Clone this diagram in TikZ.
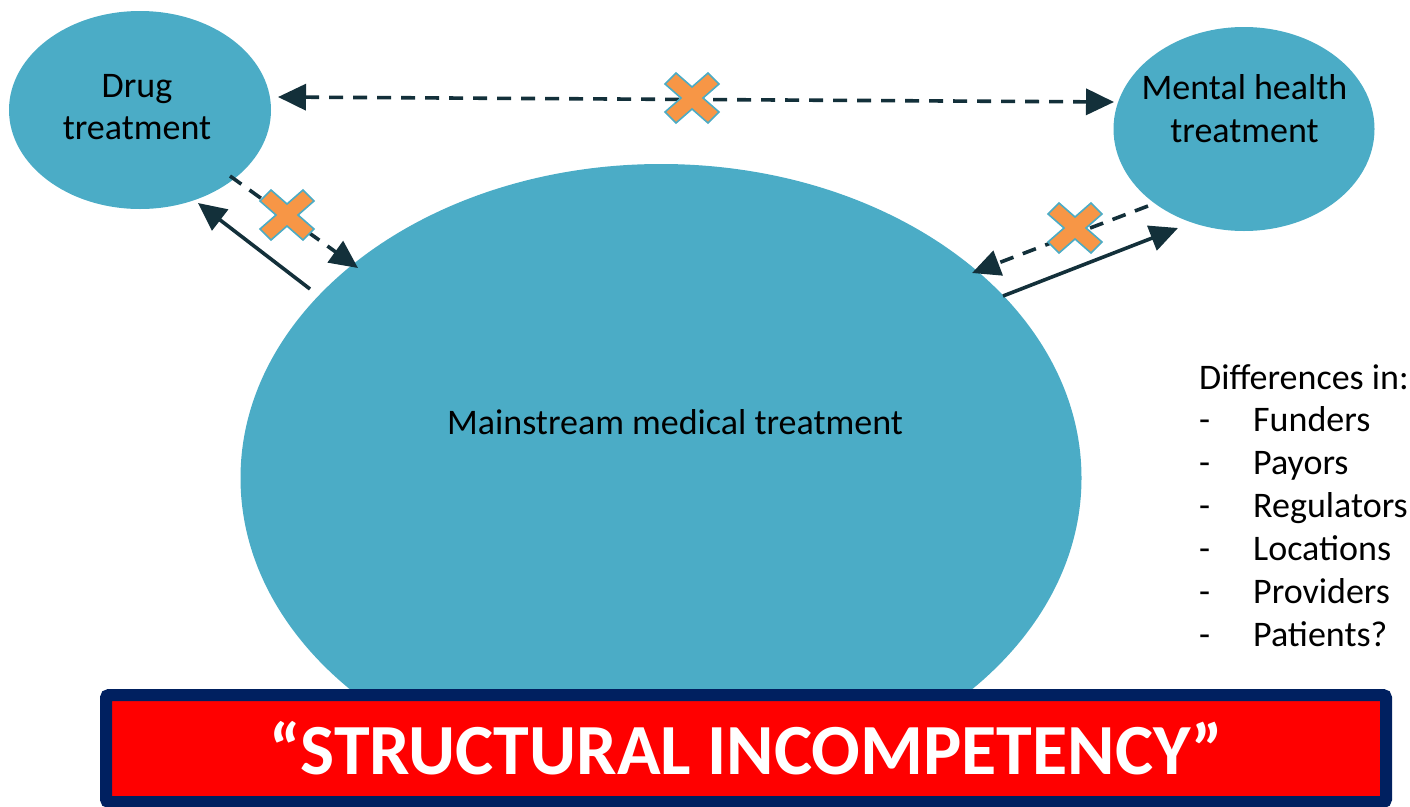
\documentclass[tikz,border=0pt]{standalone}
\usepackage{fontspec}
\setmainfont{Carlito}
\usetikzlibrary{arrows.meta,shapes.geometric}

\definecolor{bubble}{HTML}{4BACC6}
\definecolor{linkcol}{HTML}{13303A}
\definecolor{blockorange}{HTML}{F79646}
\definecolor{bannernavy}{HTML}{002060}
\definecolor{bannerred}{HTML}{FF0000}

\tikzset{
  bubblenode/.style={ellipse, fill=bubble, draw=none, inner sep=0pt},
  bodytext/.style={inner sep=0pt, font=\fontsize{36}{43}\selectfont, text=black},
  linktip/.tip={Triangle[length=28pt,width=26pt]},
  solidlink/.style={draw=linkcol, line width=3.6pt, -linktip},
  dashlink/.style={solidlink, dash pattern=on 14pt off 10pt},
  blockfill/.style={fill=blockorange, draw=bubble, line width=1.6pt, line join=miter},
  nogo/.pic={
    \path[blockfill] (0,-11) -- (16,-25) -- (27,-14) -- (11,0) -- (27,14)
      -- (16,25) -- (0,11) -- (-16,25) -- (-27,14) -- (-11,0) -- (-27,-14)
      -- (-16,-25) -- cycle;
  },
  bannerbox/.style={rectangle, fill=bannerred, draw=bannernavy, line width=12pt,
    rounded corners=3pt, minimum width=1280pt, minimum height=107pt, inner sep=0pt,
    text=white, font=\fontsize{72}{80}\selectfont\bfseries}
}

\begin{document}
\begin{tikzpicture}[x=1pt, y=-1pt]
  \useasboundingbox (0,0) rectangle (1410,806);

  % the three treatment systems
  \node[bubblenode, minimum width=841pt, minimum height=628pt] (main) at (661,478) {};
  \node[bubblenode, minimum width=262pt, minimum height=198pt] (drug) at (140,110) {};
  \node[bubblenode, minimum width=261pt, minimum height=204pt] (mental) at (1244,129) {};

  \node[bodytext, anchor=base] (drugA) at (137,97) {Drug};
  \node[bodytext, anchor=base] (drugB) at (137,139) {treatment};
  \node[bodytext, anchor=base] (mentalA) at (1244.5,99) {Mental health};
  \node[bodytext, anchor=base] (mentalB) at (1244.5,142) {treatment};
  \node[bodytext, anchor=base] (mainA) at (675,434) {Mainstream medical treatment};

  % links between the systems
  \draw[dashlink, linktip-linktip]
    ([shift={(138,-13)}]drug.center) -- ([shift={(-130,-27)}]mental.center);
  \draw[dashlink] ([shift={(90,66)}]drug.center) -- ([shift={(-303,-210)}]main.center);
  \draw[solidlink] ([shift={(-351,-189)}]main.center) -- ([shift={(58,93)}]drug.center);
  \draw[dashlink] ([shift={(-96,77)}]mental.center) -- ([shift={(311,-205)}]main.center);
  \draw[solidlink] ([shift={(342,-182)}]main.center) -- ([shift={(-66,99)}]mental.center);

  % broken links
  \pic at (692,98) {nogo};
  \pic at (287,215) {nogo};
  \pic at (1075,228) {nogo};

  % list of differences
  \node[bodytext, anchor=base west] (diffhead) at (1199,389) {Differences in:};
  \node[bodytext, anchor=base west] (diff1) at (1199,431) {\makebox[54pt][l]{-}Funders};
  \node[bodytext, anchor=base west] (diff2) at (1199,474) {\makebox[54pt][l]{-}Payors};
  \node[bodytext, anchor=base west] (diff3) at (1199,517) {\makebox[54pt][l]{-}Regulators};
  \node[bodytext, anchor=base west] (diff4) at (1199,560) {\makebox[54pt][l]{-}Locations};
  \node[bodytext, anchor=base west] (diff5) at (1199,603) {\makebox[54pt][l]{-}Providers};
  \node[bodytext, anchor=base west] (diff6) at (1199,646) {\makebox[54pt][l]{-}Patients?};

  % banner
  \node[bannerbox] (banner) at (746,748.5) {“STRUCTURAL INCOMPETENCY”};
\end{tikzpicture}
\end{document}
